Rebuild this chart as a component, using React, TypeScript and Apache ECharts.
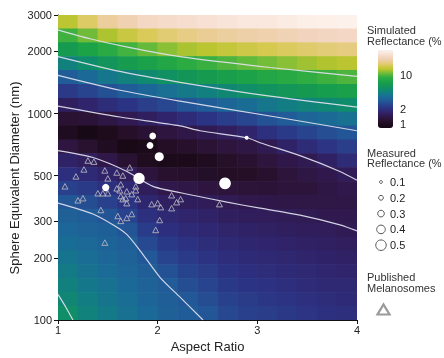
import React, { useEffect, useRef } from "react";
import * as echarts from "echarts";

// ---------- data ----------
const ASPECT_RATIO = [1.1, 1.3, 1.5, 1.7, 1.9, 2.1, 2.3, 2.5, 2.7, 2.9, 3.1, 3.3, 3.5, 3.7, 3.9];
const DIAMETER_NM = [2780, 2380, 2040, 1750, 1500, 1280, 1100, 940, 806, 691, 592, 507, 434, 372, 319, 273, 234, 200, 172, 147, 126, 108];
// simulated reflectance (%) rows = DIAMETER_NM, columns = ASPECT_RATIO
const SIMULATED_REFLECTANCE = [
  [13, 16, 19, 21, 23, 24, 25, 26, 27, 28, 28, 29, 30, 30.5, 31],
  [9.25, 10.7, 12.4, 14.0, 15.5, 16.6, 17.5, 18.3, 19.2, 20.0, 20.4, 21.2, 22.1, 22.6, 23.2],
  [6.4, 7.34, 8.3, 9.35, 10.4, 11.4, 12.3, 12.9, 13.6, 14.4, 14.9, 15.6, 16.3, 16.8, 17.3],
  [4.42, 5.05, 5.72, 6.44, 7.13, 7.85, 8.53, 9.09, 9.68, 10.3, 10.8, 11.4, 12.0, 12.5, 12.9],
  [3.03, 3.46, 3.94, 4.43, 4.88, 5.39, 5.89, 6.34, 6.81, 7.3, 7.79, 8.27, 8.74, 9.19, 9.66],
  [2.2, 2.44, 2.72, 3.04, 3.35, 3.7, 4.06, 4.4, 4.78, 5.18, 5.57, 5.92, 6.28, 6.63, 7.0],
  [1.6, 1.74, 1.92, 2.11, 2.31, 2.53, 2.79, 3.04, 3.31, 3.61, 3.92, 4.22, 4.51, 4.79, 5.07],
  [1.19, 1.24, 1.36, 1.47, 1.59, 1.73, 1.91, 2.11, 2.29, 2.5, 2.77, 3.0, 3.25, 3.5, 3.75],
  [1.01, 0.87, 0.98, 1.1, 1.21, 1.31, 1.39, 1.48, 1.58, 1.72, 2.0, 2.23, 2.45, 2.66, 2.84],
  [1.33, 1.17, 1.02, 0.885, 0.93, 1.06, 1.13, 1.22, 1.3, 1.36, 1.48, 1.66, 1.88, 2.1, 2.31],
  [1.66, 1.58, 1.4, 1.18, 1.0, 0.93, 0.92, 1.01, 1.1, 1.18, 1.3, 1.41, 1.48, 1.65, 1.88],
  [1.99, 1.87, 1.7, 1.54, 1.28, 1.15, 1.13, 1.09, 1.07, 1.08, 1.15, 1.27, 1.36, 1.44, 1.53],
  [2.38, 2.22, 2.01, 1.79, 1.57, 1.43, 1.37, 1.31, 1.27, 1.25, 1.24, 1.26, 1.27, 1.36, 1.44],
  [2.85, 2.64, 2.38, 2.08, 1.77, 1.62, 1.57, 1.53, 1.5, 1.44, 1.41, 1.39, 1.37, 1.37, 1.38],
  [3.15, 3.04, 2.81, 2.41, 2.0, 1.8, 1.72, 1.66, 1.6, 1.57, 1.54, 1.52, 1.49, 1.46, 1.45],
  [3.37, 3.21, 3.09, 2.81, 2.27, 1.99, 1.87, 1.79, 1.71, 1.66, 1.63, 1.6, 1.57, 1.54, 1.51],
  [3.61, 3.4, 3.24, 3.07, 2.56, 2.21, 2.04, 1.93, 1.82, 1.77, 1.73, 1.69, 1.65, 1.61, 1.58],
  [3.86, 3.59, 3.39, 3.19, 2.9, 2.44, 2.23, 2.09, 1.94, 1.87, 1.82, 1.78, 1.73, 1.68, 1.65],
  [4.13, 3.79, 3.56, 3.32, 3.08, 2.71, 2.43, 2.25, 2.07, 1.99, 1.93, 1.87, 1.81, 1.76, 1.72],
  [4.42, 4.01, 3.73, 3.45, 3.19, 3.0, 2.65, 2.44, 2.21, 2.11, 2.04, 1.97, 1.9, 1.84, 1.8],
  [4.73, 4.24, 3.91, 3.59, 3.31, 3.08, 2.89, 2.63, 2.36, 2.24, 2.16, 2.08, 2.0, 1.92, 1.87],
  [5.23, 4.48, 4.1, 3.73, 3.44, 3.16, 3.03, 2.84, 2.52, 2.38, 2.28, 2.19, 2.1, 2.01, 1.96],
];

// contour lines [aspect ratio, diameter nm]
const CONTOUR_10 = [[1, 2543], [1.321, 2302], [1.722, 2084], [2.224, 1887], [3.127, 1671], [4, 1513]];
const CONTOUR_5_UPPER = [[1, 1887], [1.622, 1599], [2.224, 1416], [3.127, 1213], [4, 1074]];
const CONTOUR_3_UPPER = [[1, 1530], [1.622, 1296], [2.224, 1148], [3.127, 973], [4, 825]];
const CONTOUR_15_UPPER = [[1, 1086], [1.622, 962], [2.224, 871], [2.425, 825], [2.896, 763], [3.027, 722], [3.428, 625], [3.829, 524], [4, 475]];
const CONTOUR_15_LOWER = [[1, 661], [1.351, 612], [1.692, 524], [1.953, 444], [2.354, 402], [2.696, 372], [3.027, 348], [3.428, 322], [3.829, 289], [4, 270]];
const CONTOUR_3_LOWER = [[1, 368], [1.351, 326], [1.572, 285], [1.692, 259], [1.823, 217], [2.023, 161], [2.224, 129], [2.455, 100]];
const CONTOUR_5_LOWER = [[1, 133], [1.08, 115], [1.15, 100]];

// measured: [aspect ratio, diameter nm, reflectance %]
const MEASURED = [
  [1.95, 778, 0.25], [1.923, 700, 0.25], [2.016, 618, 0.37], [1.813, 485, 0.49],
  [1.479, 438, 0.28], [2.676, 459, 0.51], [2.893, 763, 0.1],
];
// published melanosomes: [aspect ratio, diameter nm]
const PUBLISHED = [
  [1.3, 592], [1.36, 585], [1.26, 536], [1.47, 530], [1.59, 518], [1.65, 501], [1.72, 548], [1.18, 496],
  [1.5, 485], [1.07, 444], [1.63, 454], [1.78, 444], [1.78, 425], [1.59, 434], [1.62, 425], [1.4, 411],
  [1.45, 411], [1.5, 411], [1.69, 420], [1.74, 407], [1.63, 398], [1.65, 385], [1.68, 389], [1.8, 385],
  [1.25, 389], [1.2, 380], [1.69, 368], [1.94, 364], [2.0, 368], [2.03, 352], [2.14, 402], [2.14, 348],
  [2.19, 372], [2.23, 385], [1.43, 341], [1.6, 319], [1.63, 302], [1.69, 312], [1.74, 326], [2.02, 305],
  [1.98, 273], [1.47, 237], [2.62, 364],
];

const X_TICKS = [1, 2, 3, 4];
const Y_TICKS = [100, 200, 300, 500, 1000, 2000, 3000];
const COLORBAR_TICKS = [1, 2, 10];
const LEGEND_REFLECTANCE = [0.1, 0.2, 0.3, 0.4, 0.5];

const COLORBAR_MIN = 0.83;
const COLORBAR_MAX = 31.6;

const COLORMAP = [
  "#150813", "#1f0c1e", "#2a1232", "#30184c", "#30246c", "#2c3282", "#28458f",
  "#215b98", "#1a6c96", "#137e83", "#0f8d6a", "#149852", "#1ca348", "#30ad42",
  "#6cbc3a", "#b8c52e", "#d9ca55", "#eacd95", "#f2d4bd", "#f8e2d6", "#fdf4ee",
];

const FONT = "'Liberation Sans', Arial, sans-serif";
const L = (v: number) => Math.log10(v);
const symbolSizeFor = (r: number) => 2 + 19 * r;

export default function App() {
  const ref = useRef<HTMLDivElement>(null);

  useEffect(() => {
    const chart = echarts.init(ref.current!, null, { renderer: "svg" });

    // cell edges
    const colEdges = [1];
    for (let i = 1; i < ASPECT_RATIO.length; i++) colEdges.push((ASPECT_RATIO[i - 1] + ASPECT_RATIO[i]) / 2);
    colEdges.push(4);
    const rowEdges = [L(3000)];
    for (let i = 1; i < DIAMETER_NM.length; i++) rowEdges.push((L(DIAMETER_NM[i - 1]) + L(DIAMETER_NM[i])) / 2);
    rowEdges.push(L(100));

    const cells: number[][] = [];
    SIMULATED_REFLECTANCE.forEach((row, r) =>
      row.forEach((v, c) => cells.push([colEdges[c], colEdges[c + 1], rowEdges[r], rowEdges[r + 1], L(v)]))
    );

    const contours = [CONTOUR_10, CONTOUR_5_UPPER, CONTOUR_3_UPPER, CONTOUR_15_UPPER, CONTOUR_15_LOWER, CONTOUR_3_LOWER, CONTOUR_5_LOWER];
    const lineSeries = contours.map((pts) => ({
      type: "line",
      data: pts.map((p) => [p[0], L(p[1])]),
      showSymbol: false,
      smooth: 0.25,
      silent: true,
      clip: true,
      lineStyle: { color: "rgba(225,225,238,0.92)", width: 1.2 },
      z: 3,
    }));

    // colorbar geometry
    const cbLeft = 378, cbTop = 50, cbW = 15, cbH = 78;
    const cbY = (v: number) => cbTop + cbH - (cbH * (L(v) - L(COLORBAR_MIN))) / (L(COLORBAR_MAX) - L(COLORBAR_MIN));

    const legendRowY = [182, 197.8, 213.6, 229.4, 245.2];

    const graphic: any[] = [
      {
        type: "text", x: 14, y: 178, rotation: Math.PI / 2,
        style: { text: "Sphere Equivalent Diameter (nm)", fontSize: 13, fontFamily: FONT, fill: "#222", align: "center", verticalAlign: "middle" },
      },
      { type: "text", x: 367, y: 29.5, style: { text: "Simulated", fontSize: 11, fontFamily: FONT, fill: "#333", verticalAlign: "middle" } },
      { type: "text", x: 367, y: 41, style: { text: "Reflectance (%", fontSize: 11, fontFamily: FONT, fill: "#333", verticalAlign: "middle" } },
      ...COLORBAR_TICKS.map((v) => ({
        type: "text", x: 400, y: cbY(v),
        style: { text: String(v), fontSize: 11, fontFamily: FONT, fill: "#222", verticalAlign: "middle" },
      })),
      { type: "text", x: 367, y: 152.5, style: { text: "Measured", fontSize: 11, fontFamily: FONT, fill: "#333", verticalAlign: "middle" } },
      { type: "text", x: 367, y: 163, style: { text: "Reflectance (%", fontSize: 11, fontFamily: FONT, fill: "#333", verticalAlign: "middle" } },
      ...LEGEND_REFLECTANCE.map((v, i) => ({
        type: "circle", shape: { cx: 381, cy: legendRowY[i], r: symbolSizeFor(v) / 2 - 0.5 },
        style: { fill: "#fff", stroke: "#555", lineWidth: 1 },
      })),
      ...LEGEND_REFLECTANCE.map((v, i) => ({
        type: "text", x: 390, y: legendRowY[i],
        style: { text: v.toFixed(1), fontSize: 11, fontFamily: FONT, fill: "#222", verticalAlign: "middle" },
      })),
      { type: "text", x: 367, y: 277, style: { text: "Published", fontSize: 11, fontFamily: FONT, fill: "#333", verticalAlign: "middle" } },
      { type: "text", x: 367, y: 288, style: { text: "Melanosomes", fontSize: 11, fontFamily: FONT, fill: "#333", verticalAlign: "middle" } },
      {
        type: "polygon", shape: { points: [[377.5, 314.5], [389.5, 314.5], [383.5, 304.5]] },
        style: { fill: "none", stroke: "#9a9a9a", lineWidth: 2.2 },
      },
    ];

    const option: any = {
      animation: false,
      textStyle: { fontFamily: FONT },
      grid: { left: 58, right: 87, top: 15, bottom: 35 },
      xAxis: {
        type: "value", min: 1, max: 4, interval: 1,
        splitLine: { show: false },
        axisLine: { show: true, onZero: false, lineStyle: { color: "#111", width: 1 } },
        axisTick: { show: true, length: 4, lineStyle: { color: "#111" }, customValues: X_TICKS },
        axisLabel: { margin: 4, fontSize: 11, color: "#222", fontFamily: FONT, customValues: X_TICKS },
        name: "Aspect Ratio", nameLocation: "middle", nameGap: 20,
        nameTextStyle: { fontSize: 13, color: "#222", fontFamily: FONT },
      },
      yAxis: {
        type: "value", min: L(100), max: L(3000),
        splitLine: { show: false },
        axisLine: { show: true, onZero: false, lineStyle: { color: "#111", width: 1 } },
        axisTick: { show: true, length: 4, lineStyle: { color: "#111" }, customValues: Y_TICKS.map(L) },
        axisLabel: {
          margin: 6, fontSize: 11, color: "#222", fontFamily: FONT,
          customValues: Y_TICKS.map(L),
          formatter: (v: number) => String(Math.round(Math.pow(10, v))),
        },
      },
      visualMap: {
        type: "continuous", seriesIndex: 0, dimension: 4,
        min: L(COLORBAR_MIN), max: L(COLORBAR_MAX),
        calculable: false, hoverLink: false, show: true,
        left: cbLeft, top: cbTop, padding: 0,
        itemWidth: cbW, itemHeight: cbH,
        text: null, showLabel: false,
        inRange: { color: COLORMAP },
      },
      graphic,
      series: [
        {
          type: "custom",
          data: cells,
          clip: true,
          silent: true,
          encode: { x: [0, 1], y: [2, 3] },
          renderItem: (params: any, api: any) => {
            const p0 = api.coord([api.value(0), api.value(2)]);
            const p1 = api.coord([api.value(1), api.value(3)]);
            return {
              type: "rect",
              shape: {
                x: Math.min(p0[0], p1[0]) - 0.3,
                y: Math.min(p0[1], p1[1]) - 0.3,
                width: Math.abs(p1[0] - p0[0]) + 0.6,
                height: Math.abs(p1[1] - p0[1]) + 0.6,
              },
              style: { fill: api.visual("color") },
            };
          },
          z: 1,
        },
        ...lineSeries,
        {
          type: "scatter",
          data: PUBLISHED.map((p) => [p[0], L(p[1])]),
          symbol: "triangle",
          symbolSize: [6, 5.5],
          silent: true,
          itemStyle: { color: "rgba(0,0,0,0)", borderColor: "#b2b2be", borderWidth: 0.9, opacity: 1 },
          z: 4,
        },
        {
          type: "scatter",
          data: MEASURED.map((p) => [p[0], L(p[1]), p[2]]),
          symbol: "circle",
          symbolSize: (val: number[]) => symbolSizeFor(val[2]),
          silent: true,
          itemStyle: { color: "#ffffff", opacity: 1 },
          z: 5,
        },
      ],
    };

    chart.setOption(option);
    return () => chart.dispose();
  }, []);

  return <div ref={ref} style={{ position: "fixed", left: 0, top: 0, width: 444, height: 358 }} />;
}
